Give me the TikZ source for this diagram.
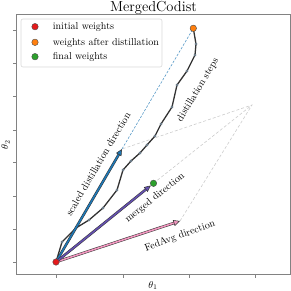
\documentclass[tikz,border=0pt]{standalone}
\usepackage{amsmath, amssymb}
\usepackage{tikz}
\usetikzlibrary{arrows.meta}
\usepackage{xcolor}
\definecolor{initred}{RGB}{228,26,28}
\definecolor{distorange}{RGB}{255,127,14}
\definecolor{finalgreen}{RGB}{44,160,44}
\definecolor{scaleblue}{RGB}{31,119,180}
\definecolor{mergepurple}{RGB}{100,80,175}
\definecolor{fedpink}{RGB}{240,150,190}
\definecolor{spinegray}{RGB}{130,130,130}
\definecolor{stepmark}{RGB}{115,145,170}

\tikzset{
  wdot/.style={circle,draw=black!70,line width=0.4pt,inner sep=0pt,minimum size=6.5pt},
  stepdot/.style={circle,fill=stepmark,draw=black!60,line width=0.2pt,inner sep=0pt,minimum size=2.6pt},
  dirarrow/.style={draw=black!80,line width=0.5pt,double distance=1.6pt,
    -{Triangle[length=6.5pt,width=6pt,fill=#1]},double=#1},
  lbl/.style={font=\fontsize{10}{12}\selectfont,inner sep=0pt},
  legtext/.style={font=\fontsize{10}{12}\selectfont,anchor=west,inner sep=0pt,
    text height=1.6ex,text depth=0.3ex},
  guide/.style={black!20,line width=0.6pt,dash pattern=on 3pt off 2pt}
}

\begin{document}
\begin{tikzpicture}[x=1pt,y=-1pt]
      \useasboundingbox (0,0) rectangle (291,291);
      % axes
      \draw[spinegray,line width=0.7pt](16,14.7) rectangle (290.7,274);
      \foreach \tx in {56,123,189,255}
        \draw[spinegray,line width=0.6pt](\tx,274)--(\tx,277.5);
      \foreach \ty in {262.3,229,196,162.7,130,96.7,63.3,30.7}
        \draw[spinegray,line width=0.6pt](16,\ty)--(12.5,\ty);
      \node[lbl] (xlab) at (153,285.5) {$\theta_1$};
      \node[lbl,rotate=90] (ylab) at (5.5,145) {$\theta_2$};
      \node[font=\fontsize{14.5}{17}\selectfont,inner sep=0pt,anchor=base] (title) at (153.5,11.5) {MergedCodist};

      % points
      \coordinate (o) at (56,262);
      \coordinate (fa) at (180,221);
      \coordinate (sd) at (122,149);
      \coordinate (sum) at (252,105);
      \coordinate (mg) at (153.5,183.3);
      \coordinate (or) at (193.3,28.3);
      \coordinate (d1) at (62,242);
      \coordinate (d2) at (76,228);
      \coordinate (d3) at (89,220);
      \coordinate (d4) at (103,208);
      \coordinate (d5) at (117,190);
      \coordinate (d6) at (123,170);
      \coordinate (d7) at (131,161);
      \coordinate (d8) at (140,153);
      \coordinate (d9) at (147,145);
      \coordinate (d10) at (155,136);
      \coordinate (d11) at (161,124);
      \coordinate (d12) at (172,107);
      \coordinate (d13) at (177,85);
      \coordinate (d14) at (187,71);
      \coordinate (d15) at (195,55);
      \coordinate (d16) at (196,44);

      % parallelogram guides
      \draw[guide](fa)--(sum)--(sd);
      \draw[guide](mg)--(sum);
      \draw[scaleblue!75,line width=0.6pt,dash pattern=on 2.5pt off 1.5pt](sd)--(or);

      % distillation steps
      \draw[black!80,line width=1.3pt,line join=round](o)--(d1)--(d2)--(d3)--(d4)--(d5)--(d6)--(d7)
        --(d8)--(d9)--(d10)--(d11)--(d12)--(d13)--(d14)--(d15)--(d16)--(or);
      \foreach \p in {d1,d2,d3,d4,d5,d6,d7,d8,d9,d10,d11,d12,d13,d14,d15,d16}
        \node[stepdot] at (\p) {};

      % directions
      \draw[dirarrow=fedpink](o)--(fa);
      \draw[dirarrow=scaleblue](o)--(sd);
      \draw[dirarrow=mergepurple,shorten >=3.5pt](o)--(mg);

      % weights
      \node[wdot,fill=initred] (init) at (o) {};
      \node[wdot,fill=finalgreen] (final) at (mg) {};
      \node[wdot,fill=distorange] (after) at (or) {};

      % labels
      \node[lbl,rotate=59] (steplbl) at (198,90) {distillation steps};
      \node[lbl,rotate=59.5] (scalelbl) at (98,164) {scaled distillation direction};
      \node[lbl,rotate=39] (mergelbl) at (155,198) {merged direction};
      \node[lbl,rotate=20] (fedlbl) at (180,236) {FedAvg direction};

      % legend
      \draw[black!15,line width=0.6pt,rounded corners=2pt,fill=white](21,19) rectangle (162,67);
      \node[wdot,fill=initred] (leg1) at (35,26.7) {};
      \node[wdot,fill=distorange] (leg2) at (35,42.3) {};
      \node[wdot,fill=finalgreen] (leg3) at (35,56.7) {};
      \node[legtext] (legt1) at (52.7,26.7) {initial weights};
      \node[legtext] (legt2) at (52.7,42.3) {weights after distillation};
      \node[legtext] (legt3) at (52.7,56.7) {final weights};
    \end{tikzpicture}
\end{document}
